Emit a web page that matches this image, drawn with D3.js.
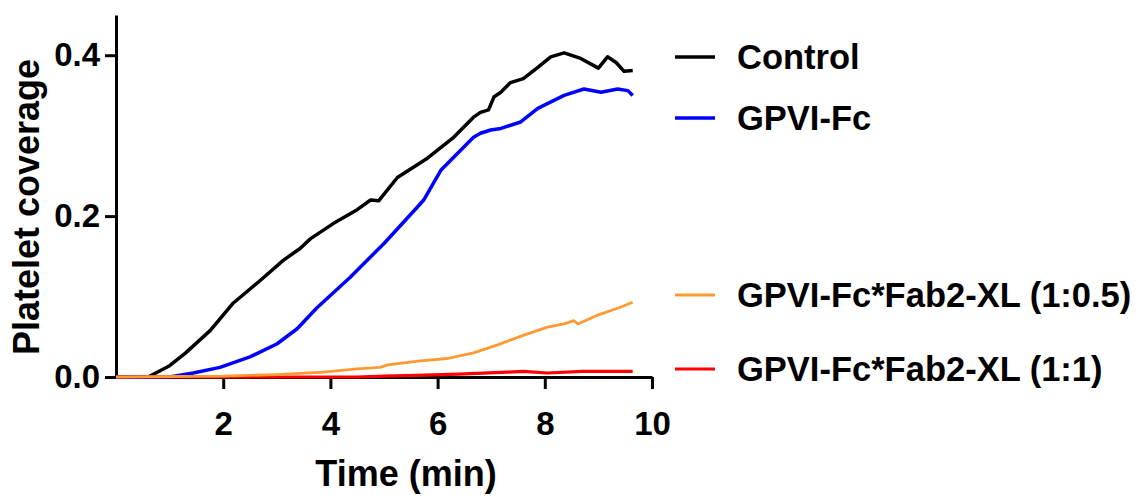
<!DOCTYPE html>
<html>
<head>
<meta charset="utf-8">
<script src="https://cdn.jsdelivr.net/npm/d3@7"></script>
<style>
  body { margin: 0; background: #fff; }
  svg { display: block; }
  text { font-family: "Liberation Sans", Arial, sans-serif; font-weight: bold; fill: #000; }
</style>
</head>
<body>
<svg id="chart" width="1146" height="496"></svg>
<script>
// time (min), platelet coverage
const controlData = [
  [0, 0], [0.6, 0], [1.0, 0.014], [1.3, 0.03], [1.76, 0.058], [2.19, 0.092],
  [2.69, 0.12], [3.12, 0.145], [3.44, 0.16], [3.63, 0.172], [4.06, 0.191],
  [4.5, 0.208], [4.75, 0.22], [4.9, 0.219], [5.25, 0.248], [5.81, 0.272],
  [6.3, 0.298], [6.67, 0.323], [6.8, 0.329], [6.95, 0.332], [7.05, 0.348],
  [7.18, 0.354], [7.36, 0.366], [7.6, 0.371], [7.87, 0.385], [8.11, 0.398],
  [8.36, 0.403], [8.67, 0.396], [9.0, 0.384], [9.17, 0.398], [9.33, 0.391],
  [9.48, 0.38], [9.64, 0.381]
]
const gpviData = [
  [0, 0], [1.0, 0], [1.44, 0.005], [1.94, 0.012], [2.5, 0.025], [3.0, 0.041],
  [3.38, 0.06], [3.75, 0.086], [4.37, 0.124], [5.0, 0.166], [5.62, 0.211],
  [5.74, 0.22], [6.06, 0.257], [6.43, 0.282], [6.67, 0.298], [6.8, 0.303],
  [6.99, 0.307], [7.18, 0.309], [7.55, 0.317], [7.87, 0.334], [8.36, 0.35],
  [8.73, 0.358], [9.05, 0.354], [9.36, 0.358], [9.55, 0.356], [9.64, 0.35]
]
const halfData = [
  [0, 0], [2.0, 0.001], [3.0, 0.003], [3.87, 0.006], [4.5, 0.01], [4.93, 0.012],
  [5.07, 0.015], [5.68, 0.02], [6.18, 0.023], [6.67, 0.03], [7.12, 0.04],
  [7.61, 0.052], [8.05, 0.062], [8.36, 0.066], [8.54, 0.07], [8.62, 0.066],
  [8.99, 0.077], [9.42, 0.087], [9.64, 0.093]
]
const oneData = [
  [0, 0], [4.5, 0], [5.0, 0.001], [5.6, 0.002], [6.4, 0.0035], [7.3, 0.006],
  [7.6, 0.007], [8.05, 0.005], [8.7, 0.007], [9.64, 0.007]
]

const seriesNames = ["Control", "GPVI-Fc", "GPVI-Fc*Fab2-XL (1:0.5)", "GPVI-Fc*Fab2-XL (1:1)"]
const seriesColors = ["#000000", "#0000ff", "#ff9933", "#ff0000"]
const xTicks = [2, 4, 6, 8, 10]
const yTicks = [0, 0.2, 0.4]

const series = [
  { name: seriesNames[0], color: seriesColors[0], data: controlData, w: 3.5, legendY: 57 },
  { name: seriesNames[1], color: seriesColors[1], data: gpviData, w: 3.5, legendY: 118 },
  { name: seriesNames[2], color: seriesColors[2], data: halfData, w: 2.8, legendY: 295 },
  { name: seriesNames[3], color: seriesColors[3], data: oneData, w: 3.2, legendY: 369 }
]

const svg = d3.select("#chart")

const xScale = d3.scaleLinear().domain([0, 10]).range([116, 652])
const yScale = d3.scaleLinear().domain([0, 0.45]).range([377, 15])

// axes
const xAxis = svg.append("g")
  .attr("transform", `translate(0, ${yScale(0)})`)
  .call(d3.axisBottom(xScale).tickValues(xTicks).tickSize(12).tickSizeOuter(0).tickPadding(23))
const yAxis = svg.append("g")
  .attr("transform", `translate(${xScale(0)}, 0)`)
  .call(d3.axisLeft(yScale).tickValues(yTicks).tickFormat(d3.format(".1f")).tickSize(11).tickSizeOuter(0).tickPadding(5))

;[xAxis, yAxis].forEach(g => {
  g.attr("font-family", null).attr("font-size", null)
  g.select(".domain").attr("stroke", "#000").attr("stroke-width", 3)
  g.selectAll(".tick line").attr("stroke", "#000").attr("stroke-width", 3)
  g.selectAll(".tick text").style("font-size", "33px")
})

svg.append("text")
  .attr("x", 406)
  .attr("y", 486)
  .attr("text-anchor", "middle")
  .style("font-size", "36px")
  .text("Time (min)")

svg.append("text")
  .attr("transform", "translate(39, 207) rotate(-90)")
  .attr("text-anchor", "middle")
  .style("font-size", "36px")
  .text("Platelet coverage")

// curves
const line = d3.line()
  .x(d => xScale(d[0]))
  .y(d => yScale(d[1]))

const drawOrder = [0, 1, 3, 2]
svg.append("g")
  .selectAll("path")
  .data(drawOrder.map(i => series[i]))
  .join("path")
  .attr("fill", "none")
  .attr("stroke", d => d.color)
  .attr("stroke-width", d => d.w)
  .attr("stroke-linejoin", "round")
  .attr("d", d => line(d.data))

// legend
const legend = svg.append("g")
  .selectAll("g")
  .data(series)
  .join("g")
  .attr("transform", d => `translate(0, ${d.legendY})`)

legend.append("line")
  .attr("x1", 675)
  .attr("x2", 715)
  .attr("stroke", d => d.color)
  .attr("stroke-width", d => d.w)

legend.append("text")
  .attr("x", 737)
  .attr("y", 12)
  .style("font-size", "34.5px")
  .text(d => d.name)
</script>
</body>
</html>
